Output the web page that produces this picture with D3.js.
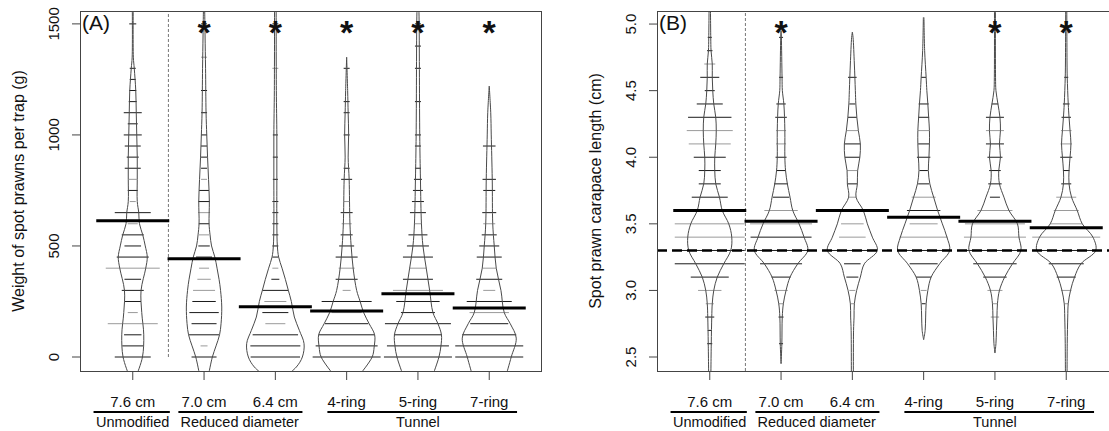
<!DOCTYPE html>
<html>
<head>
<meta charset="utf-8">
<script src="https://cdn.jsdelivr.net/npm/d3@7"></script>
<style>
  body { margin: 0; background: #fff; }
  text { font-family: "Liberation Sans", Arial, sans-serif; fill: #111; }
</style>
</head>
<body>
<script>
const W = 1109, H = 431

// trap types and their groups
const trapTypes = ["7.6 cm", "7.0 cm", "6.4 cm", "4-ring", "5-ring", "7-ring"]
const trapGroups = ["Unmodified", "Reduced diameter", "Tunnel"]
const groupFirst = [0, 1, 3]
const groupLast = [0, 2, 5]

// panel A: weight per trap (g)
const weightTicks = [0, 500, 1000, 1500]
const weightMeans = [614, 442, 226, 207, 285, 221]
const weightStars = [false, true, true, true, true, true]
// density outline: [value, relative density]
const weightDensity = [
  [[-80,4],[0,9.7],[100,11],[200,9],[300,8.3],[400,13],[450,14.5],[500,12.5],[550,10],[600,6.7],[650,6],[700,4.5],[800,4.5],[900,4.5],[1000,4],[1100,3.5],[1200,3],[1300,1.5],[1350,0.6],[1600,0.5]],
  [[-80,4.5],[0,8.3],[50,12],[100,15.5],[150,17],[225,17.7],[300,16.5],[350,15],[400,13],[450,10.8],[500,7.5],[550,6],[600,5],[700,5.3],[800,4.5],[900,3.5],[1000,2.7],[1100,2],[1300,1.5],[1450,1],[1600,0.5]],
  [[-80,12],[-45,21],[0,27],[60,28.7],[120,24],[180,19],[250,16],[300,13],[350,10],[400,6.7],[450,3.3],[500,2],[600,1.5],[800,1.5],[1000,1.5],[1200,1],[1600,0.8]],
  [[-80,13],[0,25.5],[45,27.5],[100,28],[150,22.5],[200,17],[250,13.5],[300,10],[400,6.5],[500,4.5],[600,3.3],[800,2.5],[900,1.5],[1000,2],[1100,1.5],[1200,1],[1350,0]],
  [[-80,15],[0,21],[50,23],[100,23.5],[150,20],[200,15],[300,11.7],[400,8.3],[500,5],[600,3.5],[800,2.5],[1000,1.8],[1500,1.2],[1600,0.8]],
  [[-80,17],[0,22],[85,27],[150,21],[200,15],[300,11.7],[400,7],[500,5],[600,3.5],[800,3],[1000,2],[1100,1.5],[1220,0]]
]
// bean lines: [value, frequency, tone]
const weightLines = [
  [[0,18,"k"],[50,10.5,"k"],[100,8.7,"k"],[150,25,"g"],[200,5,"g"],[250,8.3,"k"],[300,11,"k"],[350,8.3,"k"],[400,27,"g"],[450,16,"k"],[500,8.3,"k"],[550,11,"k"],[600,5,"g"],[650,18,"k"],[700,3,"g"],[750,5,"k"],[800,4,"g"],[850,8,"k"],[900,6,"k"],[950,8,"k"],[1000,9,"k"],[1050,5,"k"],[1100,9,"k"],[1150,4,"k"],[1200,3.5,"k"],[1250,3,"k"],[1300,3,"k"],[1500,3.5,"k"]],
  [[0,12.5,"k"],[50,3.5,"g"],[100,15,"k"],[150,12.5,"k"],[200,14.7,"k"],[250,11.7,"k"],[300,11,"g"],[350,6.7,"g"],[400,5,"g"],[450,8,"k"],[500,5.7,"k"],[550,5,"g"],[600,5.3,"k"],[650,6,"g"],[700,5.7,"k"],[750,5,"k"],[800,3,"g"],[850,3,"k"],[900,3,"k"],[950,3,"k"],[1000,3,"k"],[1100,3,"k"],[1200,3,"k"],[1350,3,"g"],[1500,3,"k"]],
  [[0,24.7,"k"],[50,25,"k"],[100,22.7,"k"],[150,10,"g"],[200,13,"k"],[250,11,"g"],[300,13,"k"],[350,4,"k"],[400,3,"g"],[450,3,"k"],[500,3,"k"],[550,3,"k"],[600,3,"k"],[650,3,"k"],[700,3,"k"],[800,2.5,"k"],[900,2.5,"k"],[1000,2.5,"k"],[1300,3,"g"],[1500,3,"k"]],
  [[0,34,"k"],[50,31,"k"],[100,28,"k"],[150,21.7,"k"],[200,15,"g"],[250,25,"k"],[300,4,"g"],[350,11,"k"],[400,8,"g"],[450,11,"k"],[500,7.5,"k"],[550,6,"k"],[600,5,"g"],[650,6,"k"],[700,3,"g"],[800,5.5,"k"],[850,3,"k"],[1000,3,"k"],[1100,3,"k"],[1150,3,"k"],[1300,3,"k"]],
  [[0,34,"k"],[50,31,"k"],[100,24,"k"],[150,33,"k"],[200,17,"k"],[250,21.7,"k"],[300,25,"g"],[350,15,"k"],[400,8.7,"g"],[450,15,"k"],[500,11,"k"],[550,9.5,"k"],[600,4,"g"],[650,8,"k"],[700,6,"k"],[750,5,"k"],[800,4,"k"],[850,3,"k"],[950,3,"k"],[1000,3,"k"],[1150,3,"k"],[1300,3,"k"],[1400,3,"k"],[1500,3,"k"]],
  [[0,34,"k"],[50,34,"k"],[100,27,"k"],[150,19,"k"],[200,19.7,"g"],[250,22.5,"k"],[300,6,"g"],[350,13,"k"],[400,6.7,"g"],[450,12.5,"k"],[500,10,"k"],[550,7.5,"k"],[600,6,"g"],[650,7,"k"],[750,6,"k"],[800,6.7,"k"],[950,6.3,"k"]]
]

// panel B: carapace length (cm)
const lengthTicks = [2.5, 3.0, 3.5, 4.0, 4.5, 5.0]
const lengthMeans = [3.6, 3.52, 3.6, 3.55, 3.52, 3.47]
const lengthOverall = 3.3
const lengthStars = [false, true, false, false, true, true]
const lengthDensity = [
  [[2.3,1],[2.6,1.5],[2.8,2],[2.9,2.5],[3.0,4],[3.1,7.5],[3.2,14],[3.3,21],[3.4,22],[3.5,19],[3.6,12.5],[3.7,9.7],[3.8,6],[3.9,5],[4.0,5],[4.1,6],[4.2,6.5],[4.3,6],[4.4,4],[4.5,3],[4.6,2.5],[4.7,2.5],[4.8,1.3],[4.9,1],[5.2,0.6]],
  [[2.45,0],[2.6,0.8],[2.8,1.2],[2.9,2.3],[3.0,5],[3.1,9],[3.2,16.7],[3.3,26.7],[3.4,23],[3.5,18],[3.6,11.7],[3.7,9],[3.8,6.3],[3.9,4.5],[4.0,3.8],[4.2,3.8],[4.4,2.8],[4.5,1.3],[4.6,1],[4.9,0.3],[4.95,0]],
  [[2.3,1],[2.7,1.2],[2.8,1.7],[2.9,2],[3.0,4.3],[3.1,8],[3.2,12],[3.3,25],[3.4,20],[3.5,15],[3.6,11],[3.7,3.7],[3.8,5],[3.9,5.3],[4.0,7.5],[4.1,8],[4.2,6],[4.3,4.5],[4.4,3.5],[4.5,3],[4.7,2],[4.9,0.7],[4.94,0]],
  [[2.63,0],[2.7,1.5],[2.8,2],[2.9,2.5],[3.0,4.2],[3.1,7.5],[3.2,16],[3.3,26],[3.4,23.3],[3.5,18.7],[3.6,14],[3.7,10],[3.8,6.2],[3.9,4.7],[4.0,5.3],[4.1,5.8],[4.2,5.8],[4.3,5],[4.4,4.2],[4.5,3.2],[4.6,2.5],[4.8,1],[5.05,0.3]],
  [[2.53,0],[2.6,1],[2.7,1.5],[2.8,2],[2.9,2.5],[3.0,4.5],[3.1,9.7],[3.2,17.5],[3.3,26],[3.4,24],[3.5,22.5],[3.6,14],[3.7,9],[3.8,4.5],[3.9,3.8],[4.0,5.5],[4.1,4.5],[4.2,5.5],[4.3,5],[4.4,3],[4.5,1],[4.6,0.6],[5.2,0.5]],
  [[2.3,0.8],[2.6,1],[2.8,1.5],[2.9,2],[3.0,4.3],[3.1,8.3],[3.2,14.7],[3.3,29.5],[3.4,26.7],[3.5,16],[3.6,11],[3.7,5.3],[3.8,2.8],[3.9,2.8],[4.0,3.8],[4.1,4.7],[4.2,3.8],[4.3,2.8],[4.4,2],[4.6,1],[4.7,0.8],[5.2,0.5]]
]
const lengthLines = [
  [[2.6,2.5,"k"],[2.7,2,"k"],[2.8,4.5,"k"],[2.9,4,"g"],[3.0,11.7,"g"],[3.1,19,"k"],[3.2,35,"k"],[3.3,35,"k"],[3.4,35,"g"],[3.5,35,"g"],[3.6,30,"k"],[3.7,18,"k"],[3.8,11,"k"],[3.9,11,"k"],[4.0,16,"k"],[4.1,21,"g"],[4.2,23,"g"],[4.3,21.7,"k"],[4.4,13,"k"],[4.5,5,"k"],[4.6,9.5,"k"],[4.7,5.5,"g"],[4.8,2.7,"k"],[4.9,2,"k"]],
  [[2.6,2,"k"],[2.8,2.5,"k"],[2.9,2.5,"g"],[3.0,6.7,"g"],[3.1,9.5,"k"],[3.2,21,"k"],[3.3,33,"k"],[3.4,30.5,"k"],[3.5,31,"g"],[3.6,16.7,"g"],[3.7,8.3,"k"],[3.8,7,"k"],[3.9,4.7,"k"],[4.0,5.5,"k"],[4.1,5,"g"],[4.2,5,"g"],[4.3,5.8,"k"],[4.4,4.7,"k"],[4.6,2,"k"],[4.9,2,"k"]],
  [[2.9,2,"g"],[3.0,3,"g"],[3.1,6,"k"],[3.2,8.3,"k"],[3.3,25,"k"],[3.4,13.3,"g"],[3.5,11.3,"g"],[3.6,20,"k"],[3.7,4,"g"],[3.8,5,"k"],[3.9,5.3,"g"],[4.0,7.5,"k"],[4.1,8,"k"],[4.2,6,"g"],[4.3,4.5,"k"],[4.4,3,"k"],[4.6,4.3,"k"]],
  [[2.9,2,"k"],[3.0,3,"g"],[3.1,7.5,"k"],[3.2,14,"k"],[3.3,26,"k"],[3.4,24,"g"],[3.5,14,"g"],[3.6,16.7,"k"],[3.7,12,"g"],[3.8,5.5,"k"],[3.9,4.2,"k"],[4.0,6.7,"k"],[4.1,5.5,"k"],[4.2,5.5,"g"],[4.3,5.5,"k"],[4.4,5,"k"],[4.6,2.5,"k"]],
  [[2.8,4.2,"g"],[2.9,2.5,"g"],[3.0,7.5,"g"],[3.1,11.7,"k"],[3.2,21.7,"k"],[3.3,30,"k"],[3.4,31,"g"],[3.5,30,"g"],[3.6,17.5,"g"],[3.7,5,"k"],[3.8,6.7,"k"],[3.9,5.8,"k"],[4.0,7.5,"k"],[4.1,9,"k"],[4.2,9,"g"],[4.3,9,"k"],[4.4,3.3,"k"]],
  [[2.9,2,"g"],[3.0,5.3,"g"],[3.1,9.5,"k"],[3.2,17.5,"k"],[3.3,29,"k"],[3.4,34,"g"],[3.5,16,"g"],[3.6,12.5,"g"],[3.7,10,"g"],[3.8,5,"k"],[3.9,3.3,"k"],[4.0,6,"k"],[4.1,5.7,"g"],[4.2,5.3,"g"],[4.3,4.7,"k"],[4.4,3.3,"k"],[4.6,2,"k"]]
]

const svg = d3.select("body").append("svg")
  .attr("width", W).attr("height", H)

const tone = { k: "#1a1a1a", g: "#9a9a9a" }

const drawPanel = (p) => {
  const top = 11, bottom = 371
  const x = d3.scaleLinear().domain([0.26, 6.74]).range([p.left, p.left + 462])
  const y = d3.scaleLinear().domain(p.yDomain).range([bottom, top])
  const unit = x(2) - x(1)
  const wScale = d3.scaleLinear().domain([0, 36]).range([0, 0.505 * unit])
  const g = svg.append("g")

  const clipId = "clip" + p.id
  svg.append("clipPath").attr("id", clipId)
    .append("rect").attr("x", p.left).attr("y", top)
    .attr("width", 462).attr("height", bottom - top)

  const plot = g.append("g").attr("clip-path", `url(#${clipId})`)

  // separator between control and modified traps
  plot.append("line")
    .attr("x1", x(1.5)).attr("x2", x(1.5))
    .attr("y1", p.sepBottom ?? bottom).attr("y2", top)
    .attr("stroke", "#777").attr("stroke-dasharray", "3,2")

  p.density.forEach((dens, i) => {
    const cx = x(i + 1)
    const bean = plot.append("g")
    // bean lines
    bean.selectAll("line.bl")
      .data(p.lines[i])
      .enter().append("line")
      .attr("x1", d => cx - wScale(d[1]))
      .attr("x2", d => cx + wScale(d[1]))
      .attr("y1", d => y(d[0])).attr("y2", d => y(d[0]))
      .attr("stroke", d => tone[d[2]])
      .attr("stroke-width", 1)
    // outline
    const side = s => d3.line()
      .x(d => cx + s * wScale(d[1]))
      .y(d => y(d[0]))
      .curve(d3.curveCatmullRom.alpha(0.5))
    ;[-1, 1].forEach(s => {
      bean.append("path")
        .attr("d", side(s)(dens))
        .attr("fill", "none")
        .attr("stroke", "#4a4a4a")
        .attr("stroke-width", 1)
    })
    // average line
    bean.append("line")
      .attr("x1", x(i + 1 - 0.512)).attr("x2", x(i + 1 + 0.512))
      .attr("y1", y(p.means[i])).attr("y2", y(p.means[i]))
      .attr("stroke", "#000").attr("stroke-width", 3)
  })

  if (p.overall != null) {
    plot.append("line")
      .attr("x1", p.left).attr("x2", p.left + 462)
      .attr("y1", y(p.overall)).attr("y2", y(p.overall))
      .attr("stroke", "#000").attr("stroke-width", 2.5)
      .attr("stroke-dasharray", "10,5")
  }

  // box
  g.append("rect")
    .attr("x", p.left + 0.5).attr("y", top + 0.5)
    .attr("width", 461).attr("height", bottom - top)
    .attr("fill", "none").attr("stroke", "#444")

  // y ticks
  p.ticks.forEach(t => {
    g.append("line")
      .attr("x1", p.left - 8).attr("x2", p.left)
      .attr("y1", y(t)).attr("y2", y(t))
      .attr("stroke", "#444")
    g.append("text")
      .attr("transform", `translate(${p.left - 21},${y(t)}) rotate(-90)`)
      .attr("text-anchor", "middle")
      .attr("font-size", "15px")
      .text(p.fmt(t))
  })

  g.append("text")
    .attr("transform", `translate(${p.left - 56},${(top + bottom) / 2}) rotate(-90)`)
    .attr("text-anchor", "middle")
    .attr("font-size", "16px")
    .text(p.title)

  // x ticks and labels
  trapTypes.forEach((t, i) => {
    g.append("line")
      .attr("x1", x(i + 1)).attr("x2", x(i + 1))
      .attr("y1", bottom).attr("y2", bottom + 9)
      .attr("stroke", "#444")
    g.append("text")
      .attr("x", x(i + 1)).attr("y", 407)
      .attr("text-anchor", "middle")
      .attr("font-size", "15px")
      .text(t)
    if (p.stars[i]) {
      g.append("text")
        .attr("x", x(i + 1)).attr("y", 44)
        .attr("text-anchor", "middle")
        .attr("font-size", "34px")
        .attr("font-weight", "bold")
        .text("*")
    }
  })

  const padL = [0.55, 0.36, 0.27], padR = [0.52, 0.38, 0.39]
  trapGroups.forEach((name, k) => {
    const a = groupFirst[k] + 1, b = groupLast[k] + 1
    g.append("line")
      .attr("x1", x(a - padL[k])).attr("x2", x(b + padR[k]))
      .attr("y1", 412).attr("y2", 412)
      .attr("stroke", "#000").attr("stroke-width", 2)
    g.append("text")
      .attr("x", x((a + b) / 2)).attr("y", 426.5)
      .attr("text-anchor", "middle")
      .attr("font-size", "14.5px")
      .text(name)
  })

  g.append("text")
    .attr("x", p.left + 2).attr("y", 30)
    .attr("font-size", "21px")
    .text(p.tag)
}

drawPanel({
  id: "A", left: 80, yDomain: [-63, 1558], ticks: weightTicks, fmt: d3.format("d"),
  title: "Weight of spot prawns per trap (g)", tag: "(A)",
  density: weightDensity, lines: weightLines, means: weightMeans, stars: weightStars,
  overall: null, sepBottom: 357
})

drawPanel({
  id: "B", left: 657, yDomain: [2.395, 5.098], ticks: lengthTicks, fmt: d3.format(".1f"),
  title: "Spot prawn carapace length (cm)", tag: "(B)",
  density: lengthDensity, lines: lengthLines, means: lengthMeans, stars: lengthStars,
  overall: lengthOverall
})
</script>
</body>
</html>
